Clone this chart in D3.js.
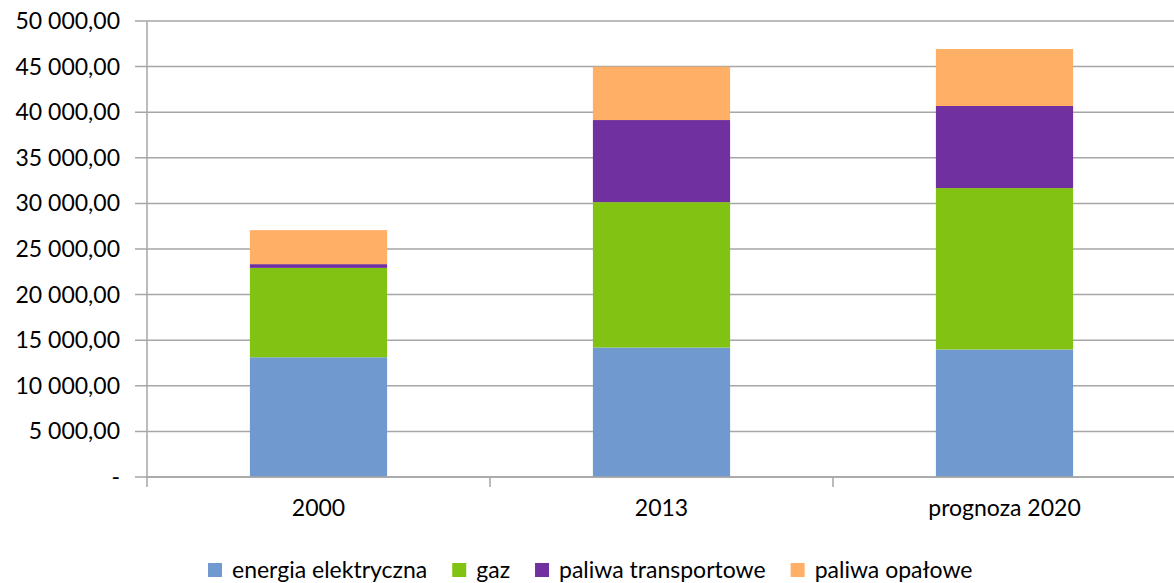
<!DOCTYPE html>
<html><head><meta charset="utf-8">
<script src="https://cdn.jsdelivr.net/npm/d3@7"></script>
<style>body{margin:0;background:#fff}svg{display:block}text{font-family:Lato,"Open Sans",sans-serif;fill:#000}</style>
</head><body><svg id="c" width="1174" height="583"></svg>
<script>
const categories = ["2000", "2013", "prognoza 2020"];
const seriesNames = ["energia elektryczna", "gaz", "paliwa transportowe", "paliwa opałowe"];
const seriesColors = ["#7099D0", "#82C212", "#7030A0", "#FFB066"];
const energiaElektryczna = [13130, 14200, 13980];
const gaz = [9800, 15940, 17700];
const paliwaTransportowe = [410, 9000, 9000];
const paliwaOpalowe = [3730, 5850, 6250];
const yTicks = [0, 5000, 10000, 15000, 20000, 25000, 30000, 35000, 40000, 45000, 50000];

const svg = d3.select("#c");
const m = {l: 147, r: 1176, t: 21, b: 477};
const x = d3.scaleBand().domain(categories).range([m.l, m.r]).paddingInner(0.6).paddingOuter(0.3);
const y = d3.scaleLinear().domain([0, 50000]).range([m.b, m.t]);

const rows = categories.map((c, i) => ({cat: c,
  "energia elektryczna": energiaElektryczna[i], "gaz": gaz[i],
  "paliwa transportowe": paliwaTransportowe[i], "paliwa opałowe": paliwaOpalowe[i]}));
const stack = d3.stack().keys(seriesNames)(rows);

const fmt = v => v === 0 ? "-" : d3.format(",.2f")(v).replace(/,/g, " ").replace(".", ",");

// grid
svg.append("g").selectAll("line").data(yTicks).join("line")
  .attr("x1", m.l - 12).attr("x2", 1174).attr("y1", d => y(d)).attr("y2", d => y(d))
  .attr("stroke", "#a6a6a6").attr("stroke-width", 1.5);
svg.append("g").selectAll("text").data(yTicks).join("text")
  .attr("x", 120).attr("y", d => y(d)).attr("dy", "0.35em").attr("text-anchor", "end")
  .attr("font-size", 23).text(fmt);

// bars
svg.append("g").selectAll("g").data(stack).join("g").attr("fill", (d, i) => seriesColors[i])
  .selectAll("rect").data(d => d).join("rect")
  .attr("x", d => x(d.data.cat)).attr("width", x.bandwidth())
  .attr("y", d => y(d[1])).attr("height", d => y(d[0]) - y(d[1]));

// axes
svg.append("line").attr("x1", m.l).attr("x2", m.l).attr("y1", m.t).attr("y2", m.b + 10)
  .attr("stroke", "#a6a6a6").attr("stroke-width", 1.5);
svg.append("line").attr("x1", m.l).attr("x2", 1174).attr("y1", m.b).attr("y2", m.b)
  .attr("stroke", "#a6a6a6").attr("stroke-width", 1.5);
const step = x.step();
const bounds = categories.map((c, i) => x(c) - step * 0.3 + step);
svg.append("g").selectAll("line").data(bounds).join("line")
  .attr("x1", d => d).attr("x2", d => d).attr("y1", m.b).attr("y2", m.b + 10)
  .attr("stroke", "#a6a6a6").attr("stroke-width", 1.5);
svg.append("g").selectAll("text").data(categories).join("text")
  .attr("x", d => x(d) + x.bandwidth() / 2).attr("y", 508).attr("dy", "0.35em")
  .attr("text-anchor", "middle").attr("font-size", 23).text(d => d);

// legend
const lg = svg.append("g");
let lx = 208;
seriesNames.forEach((n, i) => {
  lg.append("rect").attr("x", lx).attr("y", 563).attr("width", 14).attr("height", 14).attr("fill", seriesColors[i]);
  const t = lg.append("text").attr("x", lx + 24).attr("y", 570).attr("dy", "0.35em").attr("font-size", 23).text(n);
  lx += 24 + t.node().getComputedTextLength() + 25;
});
</script></body></html>
